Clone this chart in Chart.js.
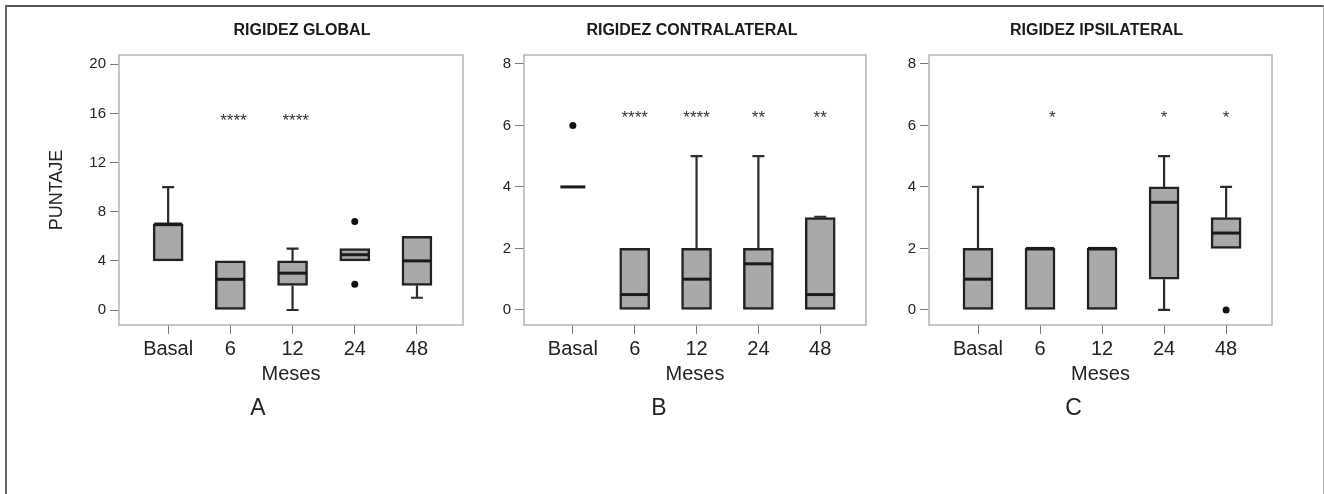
<!DOCTYPE html>
<html lang="es">
<head>
  <meta charset="UTF-8">
  <title>Rigidez - diagramas de caja</title>
  <script src="https://cdn.jsdelivr.net/npm/chart.js"></script>
  <style>
    body { margin: 0; background: #fff; }
    .marco {
      position: absolute; left: 5px; top: 5px; width: 1316px; height: 520px;
      border-left: 2px solid #666; border-top: 2px solid #555; border-right: 1px solid #bbb;
    }
    .panel { position: absolute; top: 0; height: 494px; }
  </style>
</head>
<body>
<div class="marco"></div>
<div class="panel" style="left:0;width:470px"><canvas id="gA"></canvas></div>
<div class="panel" style="left:470px;width:400px"><canvas id="gB"></canvas></div>
<div class="panel" style="left:875px;width:449px"><canvas id="gC"></canvas></div>

<script>
  // categorias del eje x
  const meses = ['Basal', '6', '12', '24', '48'];

  // Rigidez global
  const globalQ1  = [4, 0, 2, 4, 2];
  const globalQ3  = [7, 4, 4, 5, 6];
  const globalMed = [7, 2.5, 3, 4.5, 4];
  const globalMin = [4, 0, 0, 4, 1];
  const globalMax = [10, 4, 5, 5, 6];
  const globalOut = [[], [], [], [7.2, 2.1], []];
  const globalSig = ['', '****', '****', '', ''];
  const globalSigX = [0, 1.05, 2.05, 3, 4];
  const globalTicks = [0, 4, 8, 12, 16, 20];

  // Rigidez contralateral
  const contraQ1  = [4, 0, 0, 0, 0];
  const contraQ3  = [4, 2, 2, 2, 3];
  const contraMed = [4, 0.5, 1, 1.5, 0.5];
  const contraMin = [4, 0, 0, 0, 0];
  const contraMax = [4, 2, 5, 5, 3.03];
  const contraOut = [[6], [], [], [], []];
  const contraSig = ['', '****', '****', '**', '**'];
  const contraSigX = [0, 1, 2, 3, 4];

  // Rigidez ipsilateral
  const ipsiQ1  = [0, 0, 0, 1, 2];
  const ipsiQ3  = [2, 2, 2, 4, 3];
  const ipsiMed = [1, 2, 2, 3.5, 2.5];
  const ipsiMin = [0, 0, 0, 0, 2];
  const ipsiMax = [4, 2, 2, 5, 4];
  const ipsiOut = [[], [], [], [], [0]];
  const ipsiSig = ['', '*', '', '*', '*'];
  const ipsiSigX = [0, 1.2, 2, 3, 4];

  const ticks08 = [0, 2, 4, 6, 8];

  const FUENTE = "'Liberation Sans', Arial, sans-serif";

  // cajas, bigotes, medianas, marco, titulos
  const cajasPlugin = {
    id: 'cajas',
    beforeDatasetsDraw(chart) {
      const o = chart.config.options.plugins.cajas;
      const { ctx } = chart;
      const x = chart.scales.x, y = chart.scales.y;
      ctx.save();
      ctx.strokeStyle = '#2b2b2b';
      ctx.lineWidth = 2.2;
      meses.forEach((m, i) => {
        const px = x.getPixelForValue(i);
        const tramos = [];
        if (o.max[i] > o.q3[i]) tramos.push([o.q3[i], o.max[i]]);
        if (o.min[i] < o.q1[i]) tramos.push([o.q1[i], o.min[i]]);
        tramos.forEach(([a, b]) => {
          ctx.beginPath();
          ctx.moveTo(px, y.getPixelForValue(a));
          ctx.lineTo(px, y.getPixelForValue(b));
          ctx.moveTo(px - 6, y.getPixelForValue(b));
          ctx.lineTo(px + 6, y.getPixelForValue(b));
          ctx.stroke();
        });
      });
      ctx.restore();
    },
    afterDatasetsDraw(chart) {
      const o = chart.config.options.plugins.cajas;
      const { ctx, chartArea: a } = chart;
      const x = chart.scales.x, y = chart.scales.y;
      ctx.save();
      ctx.strokeStyle = '#1a1a1a';
      ctx.lineWidth = 3;
      meses.forEach((m, i) => {
        const px = x.getPixelForValue(i);
        const py = y.getPixelForValue(o.med[i]);
        const w = o.q1[i] === o.q3[i] ? 12.5 : 14;
        ctx.beginPath();
        ctx.moveTo(px - w, py);
        ctx.lineTo(px + w, py);
        ctx.stroke();
      });
      // asteriscos
      ctx.fillStyle = '#333';
      ctx.font = '17px ' + FUENTE;
      ctx.textAlign = 'center';
      ctx.textBaseline = 'middle';
      o.sig.forEach((s, i) => {
        if (s) ctx.fillText(s, x.getPixelForValue(o.sigX[i]), y.getPixelForValue(o.sigY) + 5);
      });
      // marco del area
      ctx.strokeStyle = '#b3b3b3';
      ctx.lineWidth = 1.5;
      ctx.strokeRect(a.left, a.top, a.right - a.left, a.bottom - a.top);
      // titulo y letra
      const cx = (a.left + a.right) / 2;
      ctx.fillStyle = '#1a1a1a';
      ctx.font = 'bold 16px ' + FUENTE;
      ctx.fillText(o.titulo, cx + o.dxTitulo, 31);
      ctx.font = '23px ' + FUENTE;
      ctx.fillStyle = '#222';
      ctx.fillText(o.letra, cx + o.dxLetra, 409);
      ctx.restore();
    }
  };

  const crearPanel = (id, p) => {
    const datasets = [{
      type: 'bar',
      data: meses.map((m, i) => ({ x: i, y: [p.q1[i], p.q3[i]] })),
      backgroundColor: '#a9a9a9',
      borderColor: '#222',
      borderWidth: 2.5,
      borderSkipped: false,
      barThickness: 30
    }, {
      type: 'scatter',
      data: p.out.flatMap((vals, i) => vals.map(v => ({ x: i, y: v }))),
      backgroundColor: '#111',
      borderWidth: 0,
      pointRadius: 3.5
    }];

    new Chart(document.getElementById(id), {
      data: { datasets },
      plugins: [cajasPlugin],
      options: {
        responsive: true,
        maintainAspectRatio: false,
        animation: false,
        events: [],
        layout: { padding: { top: 55, bottom: 99, left: 0, right: p.padRight } },
        plugins: {
          legend: { display: false },
          tooltip: { enabled: false },
          cajas: p
        },
        scales: {
          x: {
            type: 'linear',
            offset: false,
            min: -0.79, max: 4.74,
            afterBuildTicks: s => { s.ticks = meses.map((m, i) => ({ value: i })); },
            afterFit: s => { s.height = 70; },
            ticks: {
              callback: v => meses[v],
              color: '#222',
              padding: 3,
              font: { family: FUENTE, size: 20 }
            },
            grid: { offset: false, drawOnChartArea: false, tickLength: 9, color: '#777' },
            border: { display: false },
            title: {
              display: true, text: 'Meses', color: '#222',
              padding: { top: 0, bottom: 9 },
              font: { family: FUENTE, size: 20 }
            }
          },
          y: {
            type: 'linear',
            min: p.yMin, max: p.yMax,
            afterBuildTicks: s => { s.ticks = p.ticks.map(v => ({ value: v })); },
            afterFit: s => { s.width = p.yWidth; },
            ticks: {
              color: '#222',
              padding: 4,
              font: { family: FUENTE, size: 15 }
            },
            grid: { drawOnChartArea: false, tickLength: 9, color: '#777' },
            border: { display: false },
            title: {
              display: !!p.yTitulo, text: p.yTitulo || '', color: '#222',
              padding: { top: 46, bottom: 0 },
              font: { family: FUENTE, size: 18 }
            }
          }
        }
      }
    });
  };

  crearPanel('gA', {
    titulo: 'RIGIDEZ GLOBAL', letra: 'A', yTitulo: 'PUNTAJE',
    q1: globalQ1, q3: globalQ3, med: globalMed, min: globalMin, max: globalMax, out: globalOut,
    sig: globalSig, sigX: globalSigX, sigY: 15.8, ticks: globalTicks,
    yMin: -1.22, yMax: 20.76, yWidth: 119, padRight: 7, dxTitulo: 11, dxLetra: -33
  });
  crearPanel('gB', {
    titulo: 'RIGIDEZ CONTRALATERAL', letra: 'B',
    q1: contraQ1, q3: contraQ3, med: contraMed, min: contraMin, max: contraMax, out: contraOut,
    sig: contraSig, sigX: contraSigX, sigY: 6.4, ticks: ticks08,
    yMin: -0.49, yMax: 8.29, yWidth: 54, padRight: 2, dxTitulo: -3, dxLetra: -36
  });
  crearPanel('gC', {
    titulo: 'RIGIDEZ IPSILATERAL', letra: 'C',
    q1: ipsiQ1, q3: ipsiQ3, med: ipsiMed, min: ipsiMin, max: ipsiMax, out: ipsiOut,
    sig: ipsiSig, sigX: ipsiSigX, sigY: 6.4, ticks: ticks08,
    yMin: -0.49, yMax: 8.29, yWidth: 54, padRight: 52, dxTitulo: -4, dxLetra: -27
  });
</script>
</body>
</html>
